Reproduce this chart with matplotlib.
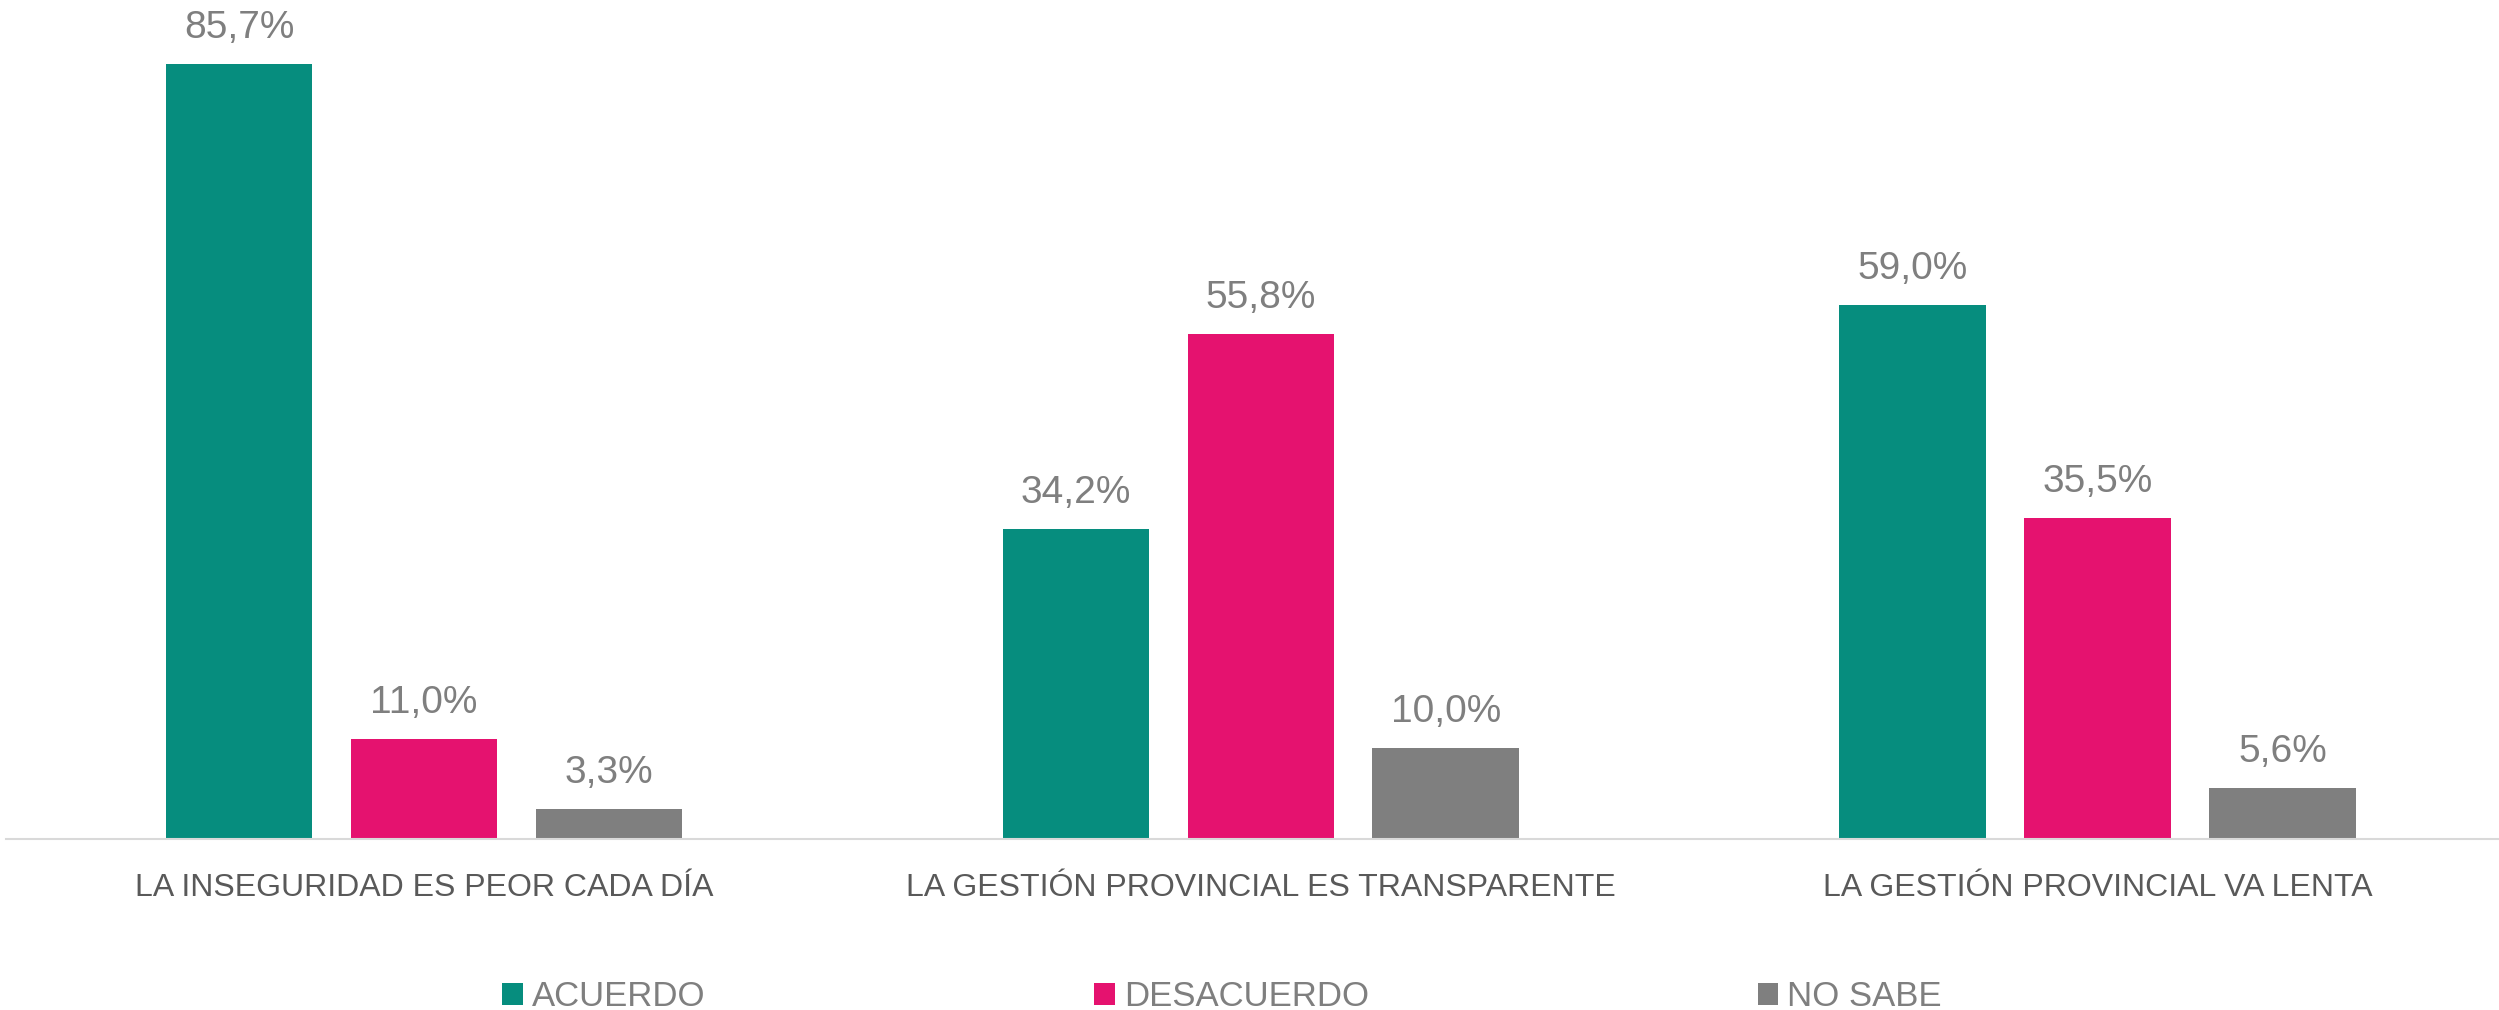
import numpy as np
import matplotlib
matplotlib.use("Agg")
import matplotlib.pyplot as plt

categorias = ['LA INSEGURIDAD ES PEOR CADA DÍA',
              'LA GESTIÓN PROVINCIAL ES TRANSPARENTE',
              'LA GESTIÓN PROVINCIAL VA LENTA']
series = ['ACUERDO', 'DESACUERDO', 'NO SABE']
acuerdo = [85.7, 34.2, 59.0]
desacuerdo = [11.0, 55.8, 35.5]
no_sabe = [3.3, 10.0, 5.6]

colores = ['#068D7E', '#E5126F', '#7F7F7F']

plt.rcParams['font.family'] = ['Liberation Sans', 'DejaVu Sans']

fig = plt.figure(figsize=(24.99, 10.10), dpi=100)
ax = fig.add_axes([0.00224, 0.1698, 1.0045, 0.8054])

x = np.arange(len(categorias))
ancho = 0.175
paso = 0.221

for i, (nombre, valores, color) in enumerate(zip(series, [acuerdo, desacuerdo, no_sabe], colores)):
    barras = ax.bar(x + (i - 1) * paso, valores, width=ancho, color=color, label=nombre)
    ax.bar_label(barras, labels=[f"{v:.1f}%".replace('.', ',') for v in valores],
                 padding=13, fontsize=28, color='#7F7F7F')

ax.set_xlim(-0.5, 2.5)
ax.set_ylim(0, 90)
ax.set_xticks(x)
ax.set_xticklabels(categorias, fontsize=23, color='#595959')
ax.tick_params(axis='x', length=0, pad=25)
ax.set_yticks([])
for lado in ['top', 'right', 'left']:
    ax.spines[lado].set_visible(False)
ax.spines['bottom'].set_color('#D9D9D9')
ax.spines['bottom'].set_linewidth(1.5)

fig.legend(loc='center', bbox_to_anchor=(0.489, 0.013), ncol=3, frameon=False,
           fontsize=25, labelcolor='#7F7F7F', handlelength=0.6, handleheight=0.6,
           handletextpad=0.25, columnspacing=11.2)

fig.savefig('out.png', dpi=100)
